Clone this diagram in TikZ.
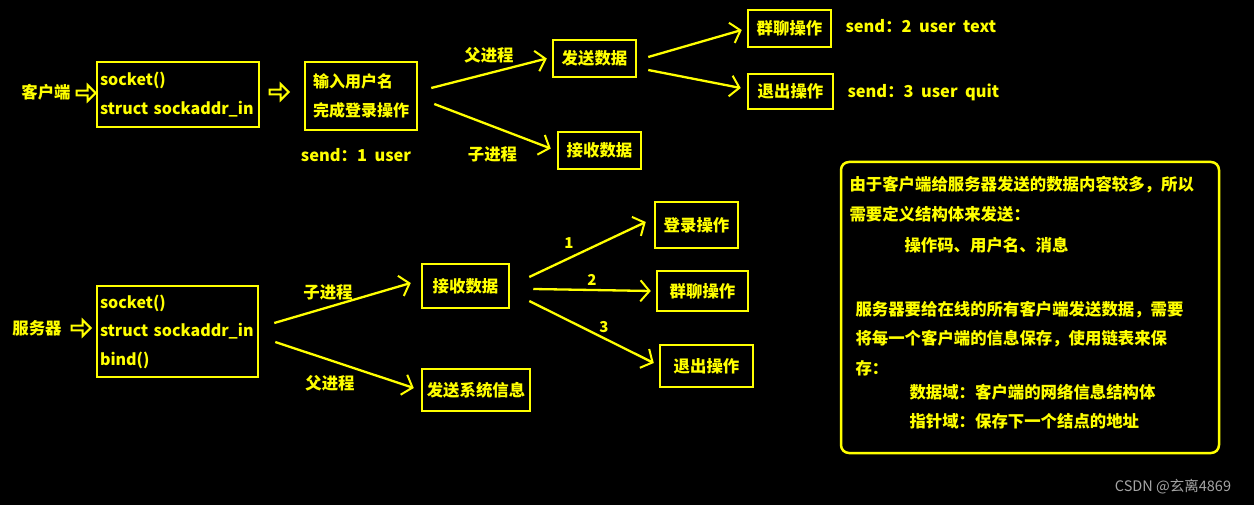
\documentclass[tikz,border=0pt]{standalone}
\usepackage{fontspec}
\setmainfont{Noto Sans CJK SC}
\usetikzlibrary{arrows.meta,shapes.arrows}
\hyphenpenalty=10000

\definecolor{hl}{RGB}{255,255,0}
\definecolor{wmgray}{RGB}{165,165,165}

\tikzset{
  every node/.style={text=hl, font=\fontsize{16.4}{28.5}\selectfont\bfseries},
  box/.style={draw=hl, line width=2.5pt, inner sep=2pt},
  codebox/.style={box, align=left, inner xsep=3pt, font=\fontsize{16}{28.5}\selectfont\bfseries},
  arr/.style={draw=hl, line width=2.3pt, -{Straight Barb[length=9pt,width=21pt,line width=2pt]}},
  hollow/.style={single arrow, draw=hl, line width=2pt, inner sep=0pt,
    minimum height=19pt, minimum width=16pt, single arrow head extend=2.5pt},
  num/.style={font=\fontsize{15}{17}\selectfont\bfseries},
  wmtext/.style={text=wmgray, font=\fontsize{14.5}{16}\selectfont}
}

\begin{document}
\begin{tikzpicture}[x=1pt,y=-1pt]
  \fill[black] (0,0) rectangle (1254,505);
  \useasboundingbox (0,0) rectangle (1254,505);

  % client side
  \node (client) at (46,92) {客户端};
  \node[hollow] (ca) at (85,93) {};
  \node[codebox, text width=156, minimum height=65] (csock) at (178,94.5) {socket()\\struct sockaddr\_in};
  \node[hollow] (cb) at (278,92) {};
  \node[codebox, inner xsep=8pt, text width=96, minimum height=68] (login) at (361,96) {输入用户名\\完成登录操作};
  \node (s1) at (356,155) {send：1\ \ user};

  \node[box, minimum width=83, minimum height=37] (send) at (594.5,58.5) {发送数据};
  \node[box, minimum width=83, minimum height=37] (recv) at (599.5,150.5) {接收数据};
  \node[box, minimum width=83, minimum height=37] (group) at (789.5,28.5) {群聊操作};
  \node[box, minimum width=85, minimum height=35] (quit) at (790.5,91.5) {退出操作};
  \node[anchor=west] (s2) at (842,26) {send：2\ \ user\ \ text};
  \node[anchor=west] (s3) at (844,92) {send：3\ \ user\ \ quit};

  \draw[arr] ([xshift=13pt,yshift=8pt]login.east) -- node[above=6pt] (fa1) {父进程} ([xshift=-5pt]send.west);
  \draw[arr] ([xshift=16pt,yshift=-8pt]login.east) -- node[below=16pt] (ch1) {子进程} ([xshift=-6pt,yshift=2pt]recv.west);
  \draw[arr] ([xshift=11pt,yshift=1.5pt]send.east) -- ([xshift=-5pt,yshift=-1.5pt]group.west);
  \draw[arr] ([xshift=11pt,yshift=-11.5pt]send.east) -- ([xshift=-6pt,yshift=3.5pt]quit.west);

  % server side
  \node (server) at (37,328) {服务器};
  \node[hollow] (sa) at (80,328) {};
  \node[codebox, text width=155, minimum height=91] (ssock) at (177.5,331.5) {socket()\\struct sockaddr\_in\\bind()};

  \node[box, minimum width=87, minimum height=44] (recv2) at (465.5,286) {接收数据};
  \node[box, minimum width=108, minimum height=42] (sys) at (476,390) {发送系统信息};
  \node[box, minimum width=83, minimum height=46] (login2) at (696.5,225) {登录操作};
  \node[box, minimum width=91, minimum height=40] (group2) at (702.5,291) {群聊操作};
  \node[box, minimum width=93, minimum height=42] (quit2) at (706.5,366) {退出操作};

  \draw[arr] ([xshift=15pt,yshift=8.5pt]ssock.east) -- ([xshift=-10pt,yshift=3pt]recv2.west);
  \draw[arr] ([xshift=16pt,yshift=-10.5pt]ssock.east) -- ([xshift=-7pt,yshift=2pt]sys.west);
  \node (ch2) at (328,292) {子进程};
  \node (fa2) at (330,383) {父进程};

  \draw[arr] ([xshift=19pt,yshift=9pt]recv2.east) -- ([xshift=-8pt,yshift=3pt]login2.west);
  \draw[arr] ([xshift=23pt,yshift=-3pt]recv2.east) -- ([xshift=-5pt]group2.west);
  \draw[arr] ([xshift=19pt,yshift=-15pt]recv2.east) -- ([xshift=-5pt,yshift=3pt]quit2.west);
  \node[num] (n1) at (569,243) {1};
  \node[num] (n2) at (592,280) {2};
  \node[num] (n3) at (604,327) {3};

  % note
  \node[draw=hl, line width=2.5pt, rounded corners=8pt, minimum width=378, minimum height=291] (note) at (1030,307.5) {};
  \node[anchor=west] (t1) at (846,185) {由于客户端给服务器发送的数据内容较多，所以};
  \node[anchor=west] (t2) at (846,214) {需要定义结构体来发送：};
  \node[anchor=west] (t3) at (901,245) {操作码、用户名、消息};
  \node[anchor=west] (t4) at (852,310) {服务器要给在线的所有客户端发送数据，需要};
  \node[anchor=west] (t5) at (852,339) {将每一个客户端的信息保存，使用链表来保};
  \node[anchor=west] (t6) at (852,368) {存：};
  \node[anchor=west] (t7) at (906,392) {数据域：客户端的网络信息结构体};
  \node[anchor=west] (t8) at (906,421) {指针域：保存下一个结点的地址};

  \node[wmtext] (wm) at (1173,487) {CSDN @玄离4869};
\end{tikzpicture}
\end{document}
